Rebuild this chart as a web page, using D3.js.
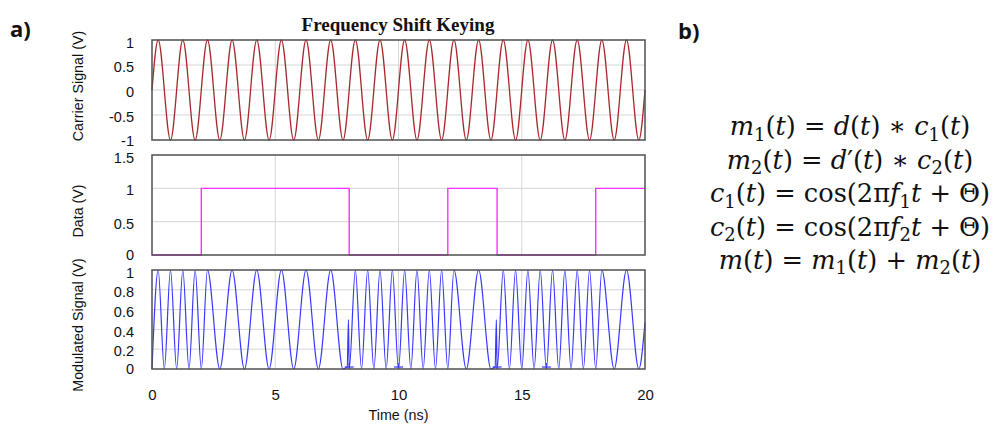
<!DOCTYPE html>
<html>
<head>
<meta charset="utf-8">
<script src="https://cdn.jsdelivr.net/npm/d3@7"></script>
<style>
  html, body { margin: 0; padding: 0; background: #fff; }
  svg { display: block; }
</style>
</head>
<body>
<svg id="chart" width="995" height="427"></svg>
<script>
// ---------- DATA ----------
const xTicks = [0, 5, 10, 15, 20];
const carrierTicks = [-1, -0.5, 0, 0.5, 1];
const carrierTickLabels = ["-1", "-0.5", "0", "0.5", "1"];
const dataTicks = [0, 0.5, 1, 1.5];
const dataTickLabels = ["0", "0.5", "1", "1.5"];
const modTicks = [0, 0.2, 0.4, 0.6, 0.8, 1];
const modTickLabels = ["0", "0.2", "0.4", "0.6", "0.8", "1"];

// carrier: extrema (time in ns, value in V)
const carrierTimes = [0,
  0.25, 0.75, 1.25, 1.75, 2.25, 2.75, 3.25, 3.75, 4.25, 4.75,
  5.25, 5.75, 6.25, 6.75, 7.25, 7.75, 8.25, 8.75, 9.25, 9.75,
  10.25, 10.75, 11.25, 11.75, 12.25, 12.75, 13.25, 13.75, 14.25, 14.75,
  15.25, 15.75, 16.25, 16.75, 17.25, 17.75, 18.25, 18.75, 19.25, 19.75, 20];
const carrierValues = [0,
  1, -1, 1, -1, 1, -1, 1, -1, 1, -1,
  1, -1, 1, -1, 1, -1, 1, -1, 1, -1,
  1, -1, 1, -1, 1, -1, 1, -1, 1, -1,
  1, -1, 1, -1, 1, -1, 1, -1, 1, -1, 0];

// data bits (step function)
const dataTimes = [0, 2, 8, 12, 14, 18, 20];
const dataBits  = [0, 1, 0, 1, 0, 1, 1];

// modulated signal: extrema (time, value)
const modTimes = [
  0, 0.25, 0.5, 0.75, 1.0, 1.25, 1.5, 1.75, 2.0,
  2.25, 2.75, 3.25, 3.75, 4.25, 4.75, 5.25, 5.75, 6.25, 6.75, 7.25, 7.75,
  7.92, 7.97, 8.0,
  8.25, 8.5, 8.75, 9.0, 9.25, 9.5, 9.75, 10.0, 10.25, 10.5, 10.75, 11.0, 11.25, 11.5, 11.75, 12.0,
  12.25, 12.75, 13.25, 13.75,
  13.92, 13.97, 14.0,
  14.25, 14.5, 14.75, 15.0, 15.25, 15.5, 15.75, 16.0, 16.25, 16.5, 16.75, 17.0, 17.25, 17.5, 17.75, 18.0,
  18.25, 18.75, 19.25, 19.75, 20];
const modValues = [
  0, 1, 0, 1, 0, 1, 0, 1, 0,
  1, 0, 1, 0, 1, 0, 1, 0, 1, 0, 1, 0,
  0.02, 0.5, 0,
  1, 0, 1, 0, 1, 0, 1, 0, 1, 0, 1, 0, 1, 0, 1, 0,
  1, 0, 1, 0,
  0.02, 0.5, 0,
  1, 0, 1, 0, 1, 0, 1, 0, 1, 0, 1, 0, 1, 0, 1, 0,
  1, 0, 1, 0, 0.47];
// small "+" artefacts near the baseline
const markerTimes = [8, 10, 14, 16];

// equations: [text, style]  i = italic, r = roman, s = subscript
const equations = [
  [["m","i"],["1","s"],["(","r"],["t","i"],[")","r"],[" = ","r"],["d","i"],["(","r"],["t","i"],[")","r"],[" ∗ ","r"],["c","i"],["1","s"],["(","r"],["t","i"],[")","r"]],
  [["m","i"],["2","s"],["(","r"],["t","i"],[")","r"],[" = ","r"],["d","i"],["′","r"],["(","r"],["t","i"],[")","r"],[" ∗ ","r"],["c","i"],["2","s"],["(","r"],["t","i"],[")","r"]],
  [["c","i"],["1","s"],["(","r"],["t","i"],[")","r"],[" = cos(2π","r"],["f","i"],["1","s"],["t","i"],[" + Θ)","r"]],
  [["c","i"],["2","s"],["(","r"],["t","i"],[")","r"],[" = cos(2π","r"],["f","i"],["2","s"],["t","i"],[" + Θ)","r"]],
  [["m","i"],["(","r"],["t","i"],[")","r"],[" = ","r"],["m","i"],["1","s"],["(","r"],["t","i"],[")","r"],[" + ","r"],["m","i"],["2","s"],["(","r"],["t","i"],[")","r"]]
];

// ---------- LAYOUT ----------
const svg = d3.select("#chart");
const x = d3.scaleLinear().domain([0, 20]).range([152, 645]);
const panels = [
  { top: 40, bottom: 140, domain: [-1, 1], ticks: carrierTicks, labels: carrierTickLabels,
    title: "Carrier Signal (V)", labelY: 86, off: [1, 2, 2, 2, 2.5] },
  { top: 155, bottom: 255, domain: [0, 1.5], ticks: dataTicks, labels: dataTickLabels,
    title: "Data (V)", labelY: 211, off: [0, 2, 2, 2.5] },
  { top: 270, bottom: 369, domain: [0, 1], ticks: modTicks, labels: modTickLabels,
    title: "Modulated Signal (V)", labelY: 325, off: [0, 2, 2, 2, 2, 2.5] }
];
panels.forEach(p => { p.y = d3.scaleLinear().domain(p.domain).range([p.bottom, p.top]); });

const gridColor = "#d6d6d6";
const frameColor = "#505050";
const tickFont = "'Liberation Sans', Arial, sans-serif";

panels.forEach((p, i) => {
  const g = svg.append("g");
  g.selectAll(".vg").data([5, 10, 15]).enter().append("line")
    .attr("x1", d => x(d)).attr("x2", d => x(d))
    .attr("y1", p.top).attr("y2", p.bottom)
    .attr("stroke", gridColor).attr("stroke-width", 1);
  g.selectAll(".hg").data(p.ticks.slice(1, -1)).enter().append("line")
    .attr("x1", x(0)).attr("x2", x(20))
    .attr("y1", d => p.y(d)).attr("y2", d => p.y(d))
    .attr("stroke", gridColor).attr("stroke-width", 1);
  p.g = g;
  const ax = d3.axisLeft(p.y).tickValues(p.ticks)
    .tickFormat((d, k) => p.labels[k]).tickSize(0).tickPadding(18);
  const axg = svg.append("g").attr("transform", `translate(${x(0)},0)`).call(ax);
  axg.select(".domain").remove();
  axg.selectAll("text").attr("font-family", tickFont).attr("font-size", 14.5).attr("fill", "#111")
    .attr("y", (d, k) => p.off[k]);
  svg.append("text")
    .attr("transform", `translate(78,${p.labelY}) rotate(-90)`)
    .attr("text-anchor", "middle").attr("dy", "0.36em")
    .attr("font-family", tickFont).attr("font-size", 14.3).attr("fill", "#111")
    .text(p.title);
});

// carrier
const carrierPts = carrierTimes.map((t, k) => [t, carrierValues[k]]);
panels[0].g.append("path").datum(carrierPts)
  .attr("fill", "none").attr("stroke", "#a8282c").attr("stroke-width", 1.3)
  .attr("d", d3.line().x(d => x(d[0])).y(d => panels[0].y(d[1])).curve(d3.curveMonotoneX));

// data
const dataPts = dataTimes.map((t, k) => [t, dataBits[k]]);
panels[1].g.append("path").datum(dataPts)
  .attr("fill", "none").attr("stroke", "#ff30ff").attr("stroke-width", 1.4)
  .attr("d", d3.line().x(d => x(d[0])).y(d => panels[1].y(d[1])).curve(d3.curveStepAfter));

// modulated
const modPts = modTimes.map((t, k) => [t, modValues[k]]);
panels[2].g.append("path").datum(modPts)
  .attr("fill", "none").attr("stroke", "#3838ff").attr("stroke-width", 1.2)
  .attr("d", d3.line().x(d => x(d[0])).y(d => panels[2].y(d[1])).curve(d3.curveMonotoneX));
const mk = panels[2].g.selectAll(".mk").data(markerTimes).enter().append("g");
mk.append("line").attr("x1", d => x(d) - 4.5).attr("x2", d => x(d) + 4.5)
  .attr("y1", panels[2].y(0.02)).attr("y2", panels[2].y(0.02))
  .attr("stroke", "#3838ff").attr("stroke-width", 1.2);
mk.append("line").attr("x1", d => x(d)).attr("x2", d => x(d))
  .attr("y1", panels[2].y(0.06)).attr("y2", panels[2].y(0))
  .attr("stroke", "#3838ff").attr("stroke-width", 1.2);

// frames on top
panels.forEach(p => {
  svg.append("rect").attr("x", x(0)).attr("y", p.top)
    .attr("width", x(20) - x(0)).attr("height", p.bottom - p.top)
    .attr("fill", "none").attr("stroke", frameColor).attr("stroke-width", 1.5);
});

// x axis
const xa = d3.axisBottom(x).tickValues(xTicks).tickFormat(d3.format("d")).tickSize(0).tickPadding(20);
const xag = svg.append("g").attr("transform", `translate(0,${panels[2].bottom})`).call(xa);
xag.select(".domain").remove();
xag.selectAll("text").attr("font-family", tickFont).attr("font-size", 15).attr("fill", "#111");
svg.append("text").attr("x", (x(0) + x(20)) / 2).attr("y", 420)
  .attr("text-anchor", "middle").attr("font-family", tickFont).attr("font-size", 14.3).attr("fill", "#111")
  .text("Time (ns)");

// title
svg.append("text").attr("x", 398).attr("y", 31).attr("text-anchor", "middle")
  .attr("font-family", "'Liberation Serif', 'Times New Roman', serif").attr("font-weight", "bold")
  .attr("font-size", 19).attr("fill", "#111").text("Frequency Shift Keying");

// panel letters
svg.append("text").attr("x", 10).attr("y", 37).attr("font-family", "'Open Sans', Lato, sans-serif")
  .attr("font-weight", "bold").attr("font-size", 22).attr("fill", "#111").text("a)");
svg.append("text").attr("x", 678).attr("y", 39).attr("font-family", "'Open Sans', Lato, sans-serif")
  .attr("font-weight", "bold").attr("font-size", 22).attr("fill", "#111").text("b)");

// equations
const eqBase = [135, 168.5, 202, 235.5, 268.5];
const eqTargetW = [242, 248, 276, 280, 265];
const eqFontFamily = "'DejaVu Serif', 'Liberation Serif', serif";
function buildEq(fs) {
  svg.selectAll(".eq").remove();
  const subFs = fs * 0.7, shift = fs * 0.22;
  return equations.map((segs, li) => {
    const t = svg.append("text").attr("class", "eq").attr("x", 850).attr("y", eqBase[li])
      .attr("text-anchor", "middle").attr("font-family", eqFontFamily).attr("font-size", fs)
      .attr("fill", "#111").style("white-space", "pre");
    let shifted = false;
    segs.forEach(([txt, st]) => {
      const ts = t.append("tspan").text(txt);
      if (st === "s") {
        ts.attr("font-size", subFs).attr("dy", shifted ? 0 : shift);
        shifted = true;
      } else {
        if (shifted) { ts.attr("dy", -shift); shifted = false; }
        ts.attr("font-style", st === "i" ? "italic" : "normal");
      }
    });
    return t;
  });
}
let eqs = buildEq(20);
const measured = d3.sum(eqs, t => t.node().getComputedTextLength());
const fit = 20 * d3.sum(eqTargetW) / measured;
buildEq(Math.min(fit, 26));
</script>
</body>
</html>
